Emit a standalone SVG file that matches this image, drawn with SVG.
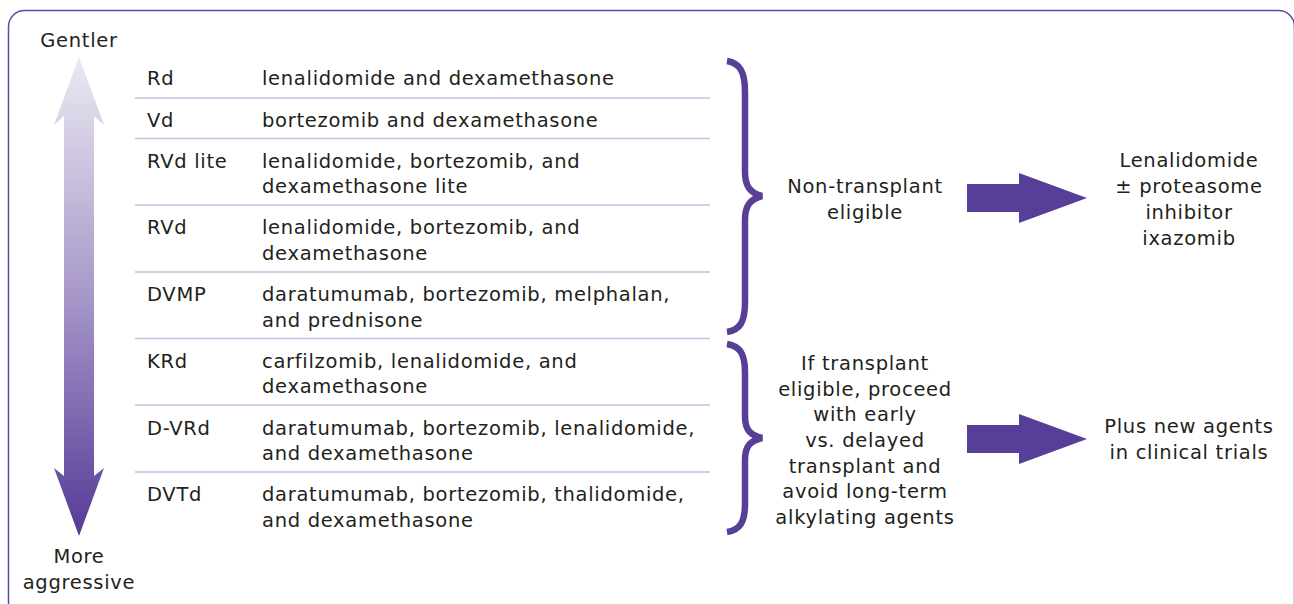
<svg xmlns="http://www.w3.org/2000/svg" width="1294" height="604" viewBox="0 0 1294 604">
<style>
text{font-family:"DejaVu Sans","Liberation Sans",sans-serif;font-size:19.5px;fill:#231f20;letter-spacing:0.7px}
.c{text-anchor:middle}
.sep{stroke:#c6bfe0;stroke-width:1.5}
.brace{fill:none;stroke:#573e98;stroke-width:6.5;stroke-linecap:butt}
.blk{fill:#573e98}
</style>
<defs>
<linearGradient id="g" x1="0" y1="57" x2="0" y2="536" gradientUnits="userSpaceOnUse">
<stop offset="0" stop-color="#ebe9f1"/>
<stop offset="0.5" stop-color="#a797c9"/>
<stop offset="1" stop-color="#553a96"/>
</linearGradient>
</defs>
<rect x="8.5" y="10.5" width="1286" height="610" rx="16" fill="#fff" stroke="#5b4a9c" stroke-width="1.5"/>
<g id="scale">
<polygon points="79,57 104,125 94,116 94,476 104,468 79,536 54,468 64,476 64,116 54,125" fill="url(#g)"/>
<text class="c" x="79" y="47">Gentler</text>
<text class="c" x="79" y="563">More</text>
<text class="c" x="79" y="589">aggressive</text>
</g>
<g id="table">
<line class="sep" x1="135" y1="98" x2="710" y2="98"/>
<line class="sep" x1="135" y1="138.5" x2="710" y2="138.5"/>
<line class="sep" x1="135" y1="205" x2="710" y2="205"/>
<line class="sep" x1="135" y1="272" x2="710" y2="272"/>
<line class="sep" x1="135" y1="338.5" x2="710" y2="338.5"/>
<line class="sep" x1="135" y1="405" x2="710" y2="405"/>
<line class="sep" x1="135" y1="472" x2="710" y2="472"/>
<g id="row-rd"><text x="147" y="85">Rd</text><text x="262" y="85">lenalidomide and dexamethasone</text></g>
<g id="row-vd"><text x="147" y="127">Vd</text><text x="262" y="127">bortezomib and dexamethasone</text></g>
<g id="row-rvdlite"><text x="147" y="168">RVd lite</text><text x="262" y="168">lenalidomide, bortezomib, and</text><text x="262" y="193">dexamethasone lite</text></g>
<g id="row-rvd"><text x="147" y="234">RVd</text><text x="262" y="234">lenalidomide, bortezomib, and</text><text x="262" y="260">dexamethasone</text></g>
<g id="row-dvmp"><text x="147" y="301">DVMP</text><text x="262" y="301">daratumumab, bortezomib, melphalan,</text><text x="262" y="327">and prednisone</text></g>
<g id="row-krd"><text x="147" y="368">KRd</text><text x="262" y="368">carfilzomib, lenalidomide, and</text><text x="262" y="393">dexamethasone</text></g>
<g id="row-dvrd"><text x="147" y="435">D-VRd</text><text x="262" y="435">daratumumab, bortezomib, lenalidomide,</text><text x="262" y="460">and dexamethasone</text></g>
<g id="row-dvtd"><text x="147" y="501">DVTd</text><text x="262" y="501">daratumumab, bortezomib, thalidomide,</text><text x="262" y="527">and dexamethasone</text></g>
</g>
<g id="connectors">
<path class="brace" d="M727,61 C740,63 745,72 745,92 L745,172 C745,186 750,193 762,196 C750,199 745,206 745,220 L745,302 C745,322 740,330 727,332"/>
<path class="brace" d="M727,344 C740,346 745,354 745,372 L745,416 C745,430 750,435 762,438 C750,441 745,446 745,460 L745,504 C745,522 740,530 727,532"/>
<polygon class="blk" points="967,184 1019,184 1019,173 1087,198 1019,223 1019,212 967,212"/>
<polygon class="blk" points="967,425 1019,425 1019,414 1087,439 1019,464 1019,453 967,453"/>
</g>
<g id="non-transplant">
<text class="c" x="865" y="193">Non-transplant</text>
<text class="c" x="865" y="219">eligible</text>
</g>
<g id="transplant">
<text class="c" x="865" y="370">If transplant</text>
<text class="c" x="865" y="396">eligible, proceed</text>
<text class="c" x="865" y="421">with early</text>
<text class="c" x="865" y="447">vs. delayed</text>
<text class="c" x="865" y="473">transplant and</text>
<text class="c" x="865" y="498">avoid long-term</text>
<text class="c" x="865" y="524">alkylating agents</text>
</g>
<g id="lenalidomide">
<text class="c" x="1189" y="167">Lenalidomide</text>
<text class="c" x="1189" y="193">± proteasome</text>
<text class="c" x="1189" y="219">inhibitor</text>
<text class="c" x="1189" y="245">ixazomib</text>
</g>
<g id="new-agents">
<text class="c" x="1189" y="433">Plus new agents</text>
<text class="c" x="1189" y="459">in clinical trials</text>
</g>
</svg>
